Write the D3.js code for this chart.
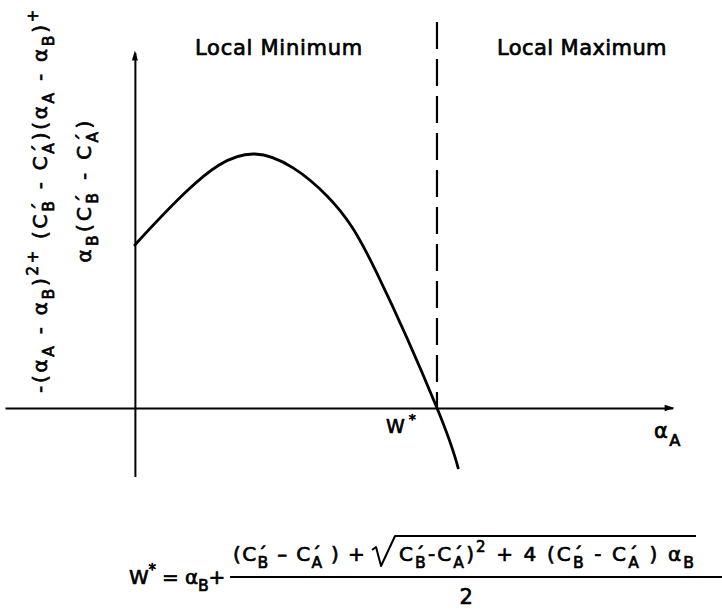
<!DOCTYPE html>
<html><head><meta charset="utf-8">
<script src="https://cdn.jsdelivr.net/npm/d3@7"></script>
<style>
body{margin:0;background:#fff}
text{font-family:"DejaVu Sans",sans-serif;fill:#000;white-space:pre}
</style>
</head><body>
<svg id="c" width="722" height="610"></svg>
<script>
// ---- data ----
const curveX = [0, 0.172, 0.397, 0.636, 0.801, 1.0, 1.07];
const curveY = [0.642, 0.854, 1.0, 0.835, 0.531, 0, -0.236];
const xDomain = [-0.43, 1.78];
const yDomain = [-0.27, 1.40];
const wStar = 1.0;
const dashTop = 1.52;
const regionLabels = ["Local Minimum", "Local Maximum"];
const xLabel = [["n","α"],["sub","A"]];
const wLabel = [["n","W"],["sup","*"]];
const yLabel1 = [["n","-(α"],["sub","A"],["n"," - α"],["sub","B"],["n",")"],["sup","2+"],["n"," (C"],["ps","B"],["n"," - C"],["ps","A"],["n",")(α"],["sub","A"],["n"," - α"],["sub","B"],["n",")"],["sup","+"]];
const yLabel2 = [["n","α"],["sub","B"],["n","(C"],["ps","B"],["n"," - C"],["ps","A"],["n",")"]];
const fLeft = [["n","W"],["sup","*"],["n"," = α"],["sub","B"],["n","+"]];
const fNumA = [["n","(C"],["ps","B"],["n"," – C"],["ps","A"],["n"," ) +"]];
const fNumB = [["n","C"],["ps","B"],["n","-C"],["ps","A"],["n",")"],["sup","2"],["n"," + 4 (C"],["ps","B"],["n"," - C"],["ps","A"],["n"," ) α"],["sub","B"]];
const fDen = [["n","2"]];

// ---- scales ----
const svg = d3.select("#c");
const x = d3.scaleLinear().domain(xDomain).range([5, 672.6]);
const y = d3.scaleLinear().domain(yDomain).range([476.6, 52.4]);

// ---- rich text helper ----
function measure(str, fs) {
  const t = svg.append("text").attr("font-size", fs).text(str);
  const w = t.node().getComputedTextLength();
  t.remove();
  return w;
}
function addTokens(t, tokens, fs, ls) {
  let off = 0;
  const pfs = fs * 0.95;
  const pw = measure("´", pfs);
  tokens.forEach(([type, s]) => {
    if (type === "n") {
      t.append("tspan").attr("dy", -off).text(s); off = 0;
    } else if (type === "sub") {
      const o = 0.36 * fs;
      t.append("tspan").attr("font-size", 0.78 * fs).attr("dy", o - off).text(s); off = o;
    } else if (type === "sup") {
      const o = -0.45 * fs;
      t.append("tspan").attr("font-size", 0.75 * fs).attr("dy", o - off).text(s); off = o;
    } else if (type === "ps") {
      const o1 = 0.02 * fs;
      t.append("tspan").attr("font-size", pfs).attr("dy", o1 - off).text("´"); off = o1;
      const o2 = 0.36 * fs;
      t.append("tspan").attr("font-size", 0.78 * fs).attr("dx", -(pw + ls)).attr("dy", o2 - off).text(s); off = o2;
    }
  });
}
function fitText(parent, tokens, fs, target, anchor, px, py) {
  const build = ls => {
    parent.selectAll("text").remove();
    const t = parent.append("text").attr("x", px).attr("y", py)
      .attr("font-size", fs).attr("text-anchor", anchor)
      .style("letter-spacing", ls + "px")
      .attr("stroke", "#000").attr("stroke-width", 0.7).attr("stroke-linejoin", "round");
    addTokens(t, tokens, fs, ls);
    return t;
  };
  const w0 = build(0).node().getBBox().width;
  const w1 = build(2).node().getBBox().width;
  const ls = 2 * (target - w0) / (w1 - w0);
  return build(ls);
}

// ---- axes ----
const xAxis = d3.axisBottom(x).tickValues([]).tickSizeOuter(0);
const yAxis = d3.axisLeft(y).tickValues([]).tickSizeOuter(0);
const gx = svg.append("g").attr("transform", `translate(0,${y(0)})`).call(xAxis);
const gy = svg.append("g").attr("transform", `translate(${x(0)},0)`).call(yAxis);
[gx, gy].forEach(g => g.select(".domain").attr("stroke", "#000").attr("stroke-width", 2));

// arrowheads
const xe = x(xDomain[1]), ye = y(yDomain[1]);
svg.append("path").attr("d", `M${xe + 2},${y(0)} L${xe - 8},${y(0) - 3.2} L${xe - 8},${y(0) + 3.2} Z`).attr("fill", "#000");
svg.append("path").attr("d", `M${x(0)},${ye - 2} L${x(0) - 3},${ye + 8} L${x(0) + 3},${ye + 8} Z`).attr("fill", "#000");

// dashed boundary at W*
svg.append("line")
  .attr("x1", x(wStar)).attr("x2", x(wStar))
  .attr("y1", y(dashTop)).attr("y2", y(0))
  .attr("stroke", "#000").attr("stroke-width", 2.2)
  .attr("stroke-dasharray", "27,10");

// curve
const pts = curveX.map((v, i) => [v, curveY[i]]);
svg.append("path").datum(pts)
  .attr("fill", "none").attr("stroke", "#000").attr("stroke-width", 2.8)
  .attr("stroke-linecap", "round")
  .attr("d", d3.line().x(d => x(d[0])).y(d => y(d[1])).curve(d3.curveNatural));

// region labels
fitText(svg.append("g"), [["n", regionLabels[0]]], 21, 168, "start", 195, 55);
fitText(svg.append("g"), [["n", regionLabels[1]]], 21, 170, "start", 497, 55);

// W* and alpha_A labels
fitText(svg.append("g"), wLabel, 19, 34, "start", 386, 433);
fitText(svg.append("g"), xLabel, 21, 28, "start", 654, 438);

// y label (rotated, two lines)
const gl1 = svg.append("g").attr("transform", "translate(47,200) rotate(-90)");
fitText(gl1, yLabel1, 20, 386, "middle", 0, 0);
const gl2 = svg.append("g").attr("transform", "translate(91,190) rotate(-90)");
fitText(gl2, yLabel2, 20, 145, "middle", 0, 0);

// bottom formula
fitText(svg.append("g"), fLeft, 20, 96, "start", 129, 584);
const nA = fitText(svg.append("g"), fNumA, 20, 133, "start", 233, 561);
const nB = fitText(svg.append("g"), fNumB, 20, 297, "start", 399, 561);
fitText(svg.append("g"), fDen, 21, 15, "middle", 467, 604);
const bA = nA.node().getBBox(), bB = nB.node().getBBox();
const rx0 = bA.x + bA.width + 6, ovY = 536, rEnd = bB.x + bB.width;
svg.append("path")
  .attr("d", `M${rx0},${550} L${rx0 + 4},${547} L${rx0 + 9},${566} L${rx0 + 23},${ovY} L${rEnd},${ovY}`)
  .attr("fill", "none").attr("stroke", "#000").attr("stroke-width", 2).attr("stroke-linejoin", "round");
svg.append("line").attr("x1", 230).attr("x2", 722).attr("y1", 577).attr("y2", 577)
  .attr("stroke", "#000").attr("stroke-width", 2);
</script>
</body></html>
